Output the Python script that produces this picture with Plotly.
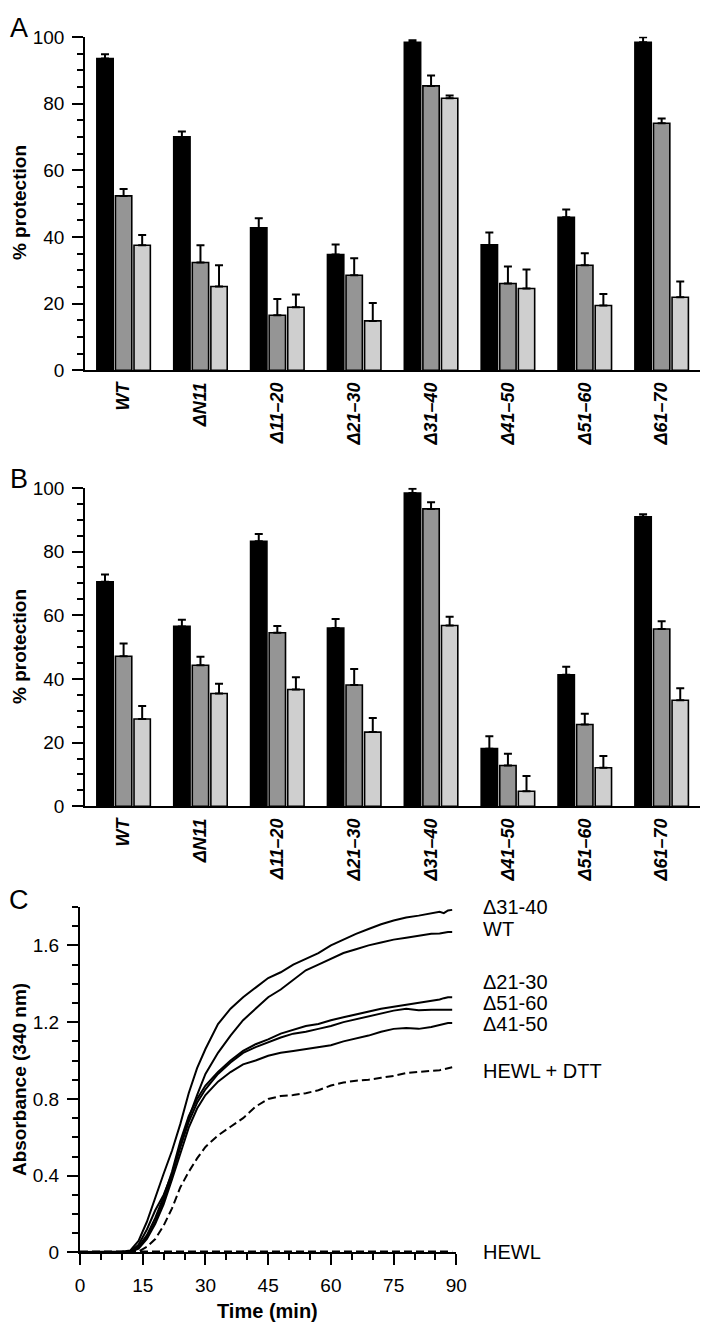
import plotly.graph_objects as go

# ---------------- data ----------------
categories = ["WT", "ΔN11", "Δ11–20", "Δ21–30", "Δ31–40", "Δ41–50", "Δ51–60", "Δ61–70"]

a_black = [93.5, 70.0, 42.7, 34.7, 98.4, 37.6, 45.9, 98.4]
a_black_err = [1.3, 1.6, 2.9, 3.0, 0.6, 3.7, 2.3, 1.5]
a_gray = [52.3, 32.3, 16.5, 28.5, 85.3, 26.0, 31.5, 74.1]
a_gray_err = [2.1, 5.2, 4.9, 5.1, 3.1, 5.1, 3.6, 1.4]
a_light = [37.5, 25.1, 18.9, 14.8, 81.6, 24.5, 19.4, 21.9]
a_light_err = [3.1, 6.4, 3.8, 5.4, 0.8, 5.7, 3.5, 4.7]

b_black = [70.5, 56.5, 83.2, 56.0, 98.4, 18.1, 41.3, 90.9]
b_black_err = [2.3, 2.1, 2.3, 2.8, 1.3, 3.9, 2.5, 0.8]
b_gray = [47.1, 44.3, 54.5, 38.1, 93.4, 12.8, 25.7, 55.7]
b_gray_err = [4.0, 2.7, 2.1, 5.0, 2.1, 3.7, 3.4, 2.4]
b_light = [27.4, 35.4, 36.7, 23.3, 56.8, 4.7, 12.1, 33.3]
b_light_err = [4.1, 3.1, 3.8, 4.4, 2.7, 4.8, 3.7, 3.8]

time_min = [0, 5, 10, 12, 14, 16, 18, 20, 22, 24, 26, 28, 30, 33, 36, 39, 42, 45, 48, 51,
            54, 57, 60, 63, 66, 69, 72, 75, 78, 81, 84, 86, 87, 88, 89]
abs_d31_40 = [0.003, 0.003, 0.004, 0.01, 0.06, 0.16, 0.29, 0.41, 0.53, 0.67, 0.83, 0.96, 1.06,
              1.19, 1.27, 1.33, 1.38, 1.43, 1.46, 1.50, 1.53, 1.56, 1.60, 1.63, 1.66, 1.685,
              1.71, 1.73, 1.745, 1.755, 1.765, 1.775, 1.768, 1.782, 1.785]
abs_wt = [0.003, 0.003, 0.003, 0.005, 0.04, 0.12, 0.22, 0.30, 0.41, 0.55, 0.70, 0.82, 0.93,
          1.04, 1.13, 1.21, 1.27, 1.33, 1.37, 1.42, 1.47, 1.50, 1.53, 1.56, 1.58, 1.60,
          1.615, 1.63, 1.64, 1.65, 1.66, 1.662, 1.668, 1.67, 1.67]
abs_d21_30 = [0.002, 0.002, 0.002, 0.003, 0.03, 0.09, 0.18, 0.29, 0.42, 0.58, 0.71, 0.80, 0.87,
              0.94, 1.00, 1.05, 1.085, 1.11, 1.14, 1.16, 1.18, 1.19, 1.21, 1.225, 1.24, 1.255,
              1.27, 1.28, 1.29, 1.30, 1.31, 1.318, 1.325, 1.33, 1.33]
abs_d51_60 = [0.002, 0.002, 0.002, 0.003, 0.025, 0.08, 0.16, 0.27, 0.40, 0.55, 0.68, 0.78, 0.85,
              0.93, 0.99, 1.04, 1.07, 1.095, 1.12, 1.14, 1.15, 1.165, 1.18, 1.20, 1.215, 1.23,
              1.245, 1.26, 1.27, 1.262, 1.265, 1.265, 1.266, 1.265, 1.265]
abs_d41_50 = [0.002, 0.002, 0.002, 0.002, 0.02, 0.07, 0.15, 0.25, 0.38, 0.52, 0.65, 0.75, 0.82,
              0.89, 0.94, 0.98, 1.00, 1.025, 1.04, 1.05, 1.06, 1.07, 1.08, 1.10, 1.115, 1.13,
              1.15, 1.165, 1.17, 1.165, 1.175, 1.185, 1.19, 1.195, 1.195]
abs_hewl_dtt = [0.0, 0.0, 0.0, 0.0, 0.005, 0.03, 0.07, 0.14, 0.23, 0.34, 0.42, 0.49, 0.55,
                0.61, 0.655, 0.70, 0.76, 0.80, 0.815, 0.82, 0.83, 0.845, 0.87, 0.885, 0.895,
                0.90, 0.91, 0.92, 0.935, 0.94, 0.945, 0.95, 0.955, 0.96, 0.965]
abs_hewl = [0.005] * len(time_min)

curve_labels = ["Δ31-40", "WT", "Δ21-30", "Δ51-60", "Δ41-50", "HEWL + DTT", "HEWL"]
curve_label_y = [1.80, 1.685, 1.41, 1.30, 1.19, 0.945, 0.005]

# ---------------- styling ----------------
FONT = "Liberation Sans, Arial, sans-serif"
W, H = 715, 1337
BLACK, GRAY, LIGHT = "#000000", "#959595", "#cfcfcf"
C_Y0, C_PX_PER_UNIT = 1262.3, 195.0  # panel C pixel geometry


def px_x(p):
    return p / W


def px_y(p):
    return 1 - p / H


fig = go.Figure()


def add_bars(series, xa, ya):
    for vals, errs, col in series:
        fig.add_trace(go.Bar(
            x=categories, y=vals, xaxis=xa, yaxis=ya,
            marker=dict(color=col, line=dict(color="black", width=1.6)),
            error_y=dict(type="data", symmetric=False, array=errs,
                         arrayminus=[0] * len(errs), color="black",
                         thickness=2, width=4),
            showlegend=False,
        ))


add_bars([(a_black, a_black_err, BLACK), (a_gray, a_gray_err, GRAY),
          (a_light, a_light_err, LIGHT)], "x", "y")
add_bars([(b_black, b_black_err, BLACK), (b_gray, b_gray_err, GRAY),
          (b_light, b_light_err, LIGHT)], "x2", "y2")

curves = [abs_d31_40, abs_wt, abs_d21_30, abs_d51_60, abs_d41_50, abs_hewl_dtt, abs_hewl]
for i, c in enumerate(curves):
    dash = "solid" if i < 5 else "8px,4px"
    fig.add_trace(go.Scatter(
        x=time_min, y=c, xaxis="x3", yaxis="y3", mode="lines",
        line=dict(color="black", width=2, dash=dash), showlegend=False,
    ))

TICK_FONT = dict(family=FONT, size=19, color="black")
cat_axis = dict(
    type="category", showline=True, linecolor="black", linewidth=2,
    ticks="", ticklen=0, tickangle=-90, ticklabelstandoff=3,
    tickfont=dict(family=FONT, size=18, color="black", weight="bold", style="italic"),
    showgrid=False, zeroline=False, fixedrange=True,
)
pct_axis = dict(
    range=[0, 100], tickvals=[0, 20, 40, 60, 80, 100], showline=True,
    linecolor="black", linewidth=2, ticks="outside", ticklen=11, tickwidth=2,
    tickcolor="black", tickfont=TICK_FONT,
    minor=dict(dtick=5, ticklen=6, tickwidth=2, tickcolor="black", ticks="outside", showgrid=False),
    showgrid=False, zeroline=False, ticklabelstandoff=4,
)

xA = [px_x(82), px_x(711)]
fig.update_layout(
    width=W, height=H, margin=dict(l=0, r=0, t=0, b=0),
    paper_bgcolor="white", plot_bgcolor="white",
    barmode="group", bargap=0.275, bargroupgap=0.12,
    font=dict(family=FONT, color="black"),
    xaxis=dict(domain=xA, anchor="y", **cat_axis),
    yaxis=dict(domain=[px_y(366), px_y(27.3)], anchor="x", **pct_axis),
    xaxis2=dict(domain=xA, anchor="y2", **cat_axis),
    yaxis2=dict(domain=[px_y(809), px_y(485.5)], anchor="x2", **pct_axis),
    xaxis3=dict(
        domain=[px_x(76.7), px_x(461.7)], anchor="y3", range=[0, 90],
        tickvals=[0, 15, 30, 45, 60, 75, 90], showline=True, linecolor="black",
        linewidth=2, ticks="outside", ticklen=11, tickwidth=2, tickcolor="black",
        tickfont=TICK_FONT,
        minor=dict(dtick=5, ticklen=6, tickwidth=2, tickcolor="black", ticks="outside", showgrid=False),
        showgrid=False, zeroline=False, ticklabelstandoff=4,
    ),
    yaxis3=dict(
        domain=[px_y(C_Y0), px_y(C_Y0 - 1.8 * C_PX_PER_UNIT)], anchor="x3", range=[0, 1.8],
        tickvals=[0, 0.4, 0.8, 1.2, 1.6], ticktext=["0", "0.4", "0.8", "1.2", "1.6"],
        showline=True, linecolor="black", linewidth=2, ticks="outside", ticklen=11,
        tickwidth=2, tickcolor="black", tickfont=TICK_FONT,
        minor=dict(dtick=0.1, ticklen=6, tickwidth=2, tickcolor="black", ticks="outside", showgrid=False),
        showgrid=False, zeroline=False, ticklabelstandoff=4,
    ),
)

ann = []
# panel letters
for letter, yc in [("A", 18.5), ("B", 476), ("C", 904)]:
    ann.append(dict(text=letter, x=px_x(14), y=px_y(yc), xref="paper", yref="paper",
                    showarrow=False, xanchor="center", yanchor="middle",
                    font=dict(family=FONT, size=27, color="black")))
# y titles
for txt, yc in [("% protection", 196), ("% protection", 647), ("Absorbance (340 nm)", 1087)]:
    ann.append(dict(text=txt, x=px_x(15.5), y=px_y(yc), xref="paper", yref="paper",
                    showarrow=False, textangle=-90, xanchor="center", yanchor="middle",
                    font=dict(family=FONT, size=19, color="black", weight="bold")))
ann.append(dict(text="Time (min)", x=px_x(269), y=px_y(1321.5), xref="paper", yref="paper",
                showarrow=False, xanchor="center", yanchor="middle",
                font=dict(family=FONT, size=20, color="black", weight="bold")))
# curve labels (placed right of panel C, in paper coordinates)
for lab, yv in zip(curve_labels, curve_label_y):
    ann.append(dict(text=lab, x=px_x(486.7), y=px_y(C_Y0 - yv * C_PX_PER_UNIT),
                    xref="paper", yref="paper", showarrow=False,
                    xanchor="left", yanchor="middle",
                    font=dict(family=FONT, size=20, color="black")))
fig.update_layout(annotations=ann)

fig.write_html("out.html", config={"displayModeBar": False},
               post_script="document.body.style.margin='0px';")
